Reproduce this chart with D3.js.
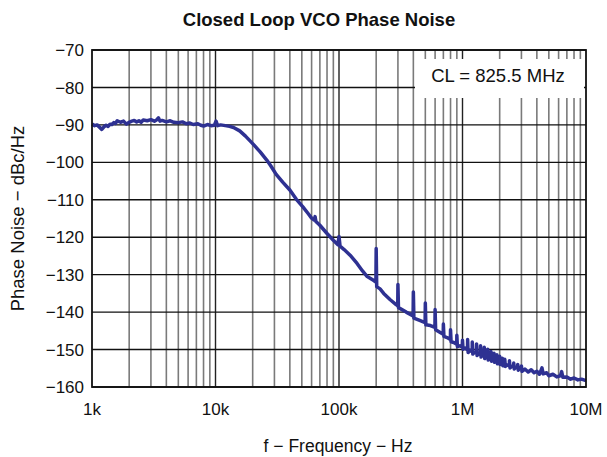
<!DOCTYPE html>
<html>
<head>
<meta charset="utf-8">
<script src="https://cdn.jsdelivr.net/npm/d3@7/dist/d3.min.js"></script>
<style>
  html, body { margin: 0; padding: 0; background: #fff; }
  svg { display: block; font-family: "Liberation Sans", Arial, sans-serif; }
</style>
</head>
<body>
<svg id="chart" width="607" height="457"></svg>
<script>
// ---- data ----
const chartTitle = "Closed Loop VCO Phase Noise";
const xAxisTitle = "f \u2212 Frequency \u2212 Hz";
const yAxisTitle = "Phase Noise \u2212 dBc/Hz";
const legendText = "CL = 825.5 MHz";

const xTickValues = [1e3, 1e4, 1e5, 1e6, 1e7];
const xTickLabels = ["1k", "10k", "100k", "1M", "10M"];
const yTickValues = [-70, -80, -90, -100, -110, -120, -130, -140, -150, -160];

// frequency (Hz) and phase noise (dBc/Hz); spurs appear as base/peak/base
const freqHz = [
  1000, 1050, 1100, 1150, 1200, 1250, 1300, 1350, 1400, 1450,
  1500, 1550, 1600, 1700, 1800, 1900, 2000, 2100, 2200, 2300,
  2400, 2500, 2600, 2800, 3000, 3200, 3350, 3450, 3550, 3700,
  4000, 4300, 4600, 5000, 5400, 5800, 6200, 6600, 7200, 7600,
  8000, 8600, 9200, 9800, 10100, 10400, 11000, 12000, 13000, 14000,
  15700, 17500, 20000, 23000, 26000, 28000, 31000, 35000, 40000, 45000,
  51000, 56000, 60000, 63000, 64000, 65000, 70000, 80000, 90000, 98000,
  100000, 102000, 110000, 123000, 140000, 155000, 168000, 180000, 190000, 199000,
  200000, 202000, 215000, 230000, 260000, 290000, 299000, 300000, 303000, 350000,
  398000, 400000, 404000, 450000, 498000, 500000, 505000, 550000, 598000, 600000,
  606000, 650000, 698000, 700000, 707000, 750000, 798000, 800000, 808000, 850000,
  898000, 900000, 909000, 950000, 995000, 1000000, 1010000, 1050000, 1098000, 1100000,
  1110000, 1150000, 1198000, 1200000, 1212000, 1250000, 1298000, 1300000, 1313000, 1350000,
  1398000, 1400000, 1414000, 1450000, 1498000, 1500000, 1515000, 1550000, 1598000, 1600000,
  1616000, 1650000, 1698000, 1700000, 1717000, 1750000, 1798000, 1800000, 1818000, 1850000,
  1898000, 1900000, 1919000, 1950000, 1998000, 2000000, 2020000, 2050000, 2098000, 2100000,
  2121000, 2150000, 2198000, 2200000, 2222000, 2300000, 2398000, 2400000, 2424000, 2500000,
  2598000, 2600000, 2626000, 2700000, 2798000, 2800000, 2828000, 2900000, 2998000, 3000000,
  3030000, 3200000, 3400000, 3600000, 3800000, 4000000, 4200000, 4400000, 4500000, 4800000,
  5000000, 5400000, 5800000, 6200000, 6350000, 6500000, 7000000, 7500000, 8000000, 8600000,
  9200000, 10000000
];
const noiseDbc = [
  -89.8, -90.2, -90.0, -90.6, -91.2, -90.5, -90.1, -90.4, -89.8, -89.9,
  -89.4, -89.6, -88.9, -89.3, -89.0, -89.8, -89.3, -89.0, -88.8, -89.2,
  -88.9, -89.3, -88.7, -88.9, -88.6, -89.0, -88.6, -88.1, -89.0, -88.8,
  -89.2, -88.9, -89.3, -89.4, -89.2, -89.7, -89.5, -89.9, -89.7, -90.1,
  -90.3, -89.9, -90.2, -90.1, -89.0, -90.2, -90.0, -90.2, -90.4, -90.7,
  -91.6, -93.0, -95.0, -97.2, -99.4, -100.9, -103.2, -105.3, -107.4, -109.8,
  -111.9, -113.6, -114.9, -115.4, -114.5, -115.8, -116.8, -119.0, -120.8, -122.0,
  -119.8, -122.4, -123.3, -124.8, -127.0, -129.0, -130.4, -131.0, -131.5, -132.0,
  -123.0, -133.2, -133.8, -135.0, -136.7, -138.0, -138.3, -132.6, -138.8, -140.0,
  -141.0, -134.6, -141.6, -142.2, -142.8, -137.6, -143.4, -143.6, -144.1, -139.3,
  -144.7, -145.3, -145.9, -143.2, -146.5, -146.8, -147.3, -144.7, -147.9, -148.1,
  -148.6, -146.2, -149.2, -149.0, -149.3, -147.5, -149.9, -149.6, -150.1, -147.3,
  -150.8, -150.2, -150.6, -148.0, -151.2, -150.7, -151.0, -148.5, -151.6, -151.0,
  -151.4, -149.0, -152.0, -151.4, -151.8, -149.4, -152.4, -151.8, -152.1, -149.9,
  -152.8, -152.2, -152.5, -150.5, -153.1, -152.5, -152.8, -151.0, -153.4, -152.8,
  -153.1, -151.4, -153.8, -153.2, -153.4, -151.8, -154.0, -153.4, -153.7, -152.3,
  -154.3, -153.7, -154.0, -152.6, -154.5, -154.1, -154.4, -153.0, -154.9, -154.5,
  -154.7, -153.6, -155.2, -154.7, -155.0, -154.0, -155.5, -155.1, -155.3, -154.4,
  -155.8, -155.2, -156.0, -155.4, -156.2, -155.8, -156.6, -154.9, -156.5, -156.2,
  -157.0, -156.6, -157.3, -157.0, -155.9, -157.4, -157.3, -157.9, -157.6, -158.1,
  -157.9, -158.3
];

// ---- layout ----
const svg = d3.select("#chart");
const margin = { left: 92, right: 586, top: 50, bottom: 387 };
const x = d3.scaleLog().domain([1e3, 1e7]).range([margin.left, margin.right]);
const y = d3.scaleLinear().domain([-160, -70]).range([margin.bottom, margin.top]);

// vertical grid
const minorX = [];
const majorX = [];
for (let d = 1e3; d < 1e7; d *= 10) {
  if (d > 1e3) majorX.push(d);
  for (let m = 2; m <= 9; m++) minorX.push(d * m);
}
svg.append("g").selectAll("line").data(minorX).join("line")
  .attr("x1", d => x(d)).attr("x2", d => x(d))
  .attr("y1", margin.top).attr("y2", margin.bottom)
  .attr("stroke", "#7a7a7a").attr("stroke-width", 1.6);
svg.append("g").selectAll("line").data(majorX).join("line")
  .attr("x1", d => x(d)).attr("x2", d => x(d))
  .attr("y1", margin.top).attr("y2", margin.bottom)
  .attr("stroke", "#222").attr("stroke-width", 1.4);

// horizontal grid
svg.append("g").selectAll("line").data(yTickValues).join("line")
  .attr("x1", margin.left).attr("x2", margin.right)
  .attr("y1", d => y(d)).attr("y2", d => y(d))
  .attr("stroke", "#111").attr("stroke-width", 1.4);

// legend box (masks the grid)
svg.append("rect")
  .attr("x", 415).attr("y", 59).attr("width", 169).attr("height", 39)
  .attr("fill", "#fff");
svg.append("text")
  .attr("x", 498).attr("y", 81.5).attr("text-anchor", "middle")
  .attr("font-size", 18.5).attr("fill", "#111").text(legendText);

// curve
const pts = freqHz.map((f, i) => [f, noiseDbc[i]]);
svg.append("path")
  .datum(pts)
  .attr("fill", "none")
  .attr("stroke", "#2e3192")
  .attr("stroke-width", 3.5)
  .attr("stroke-linejoin", "round")
  .attr("d", d3.line().x(d => x(d[0])).y(d => y(d[1])));

// frame
svg.append("rect")
  .attr("x", margin.left).attr("y", margin.top)
  .attr("width", margin.right - margin.left).attr("height", margin.bottom - margin.top)
  .attr("fill", "none").attr("stroke", "#111").attr("stroke-width", 1.8);

// y tick labels
svg.append("g").selectAll("text").data(yTickValues).join("text")
  .attr("x", margin.left - 8).attr("y", d => y(d))
  .attr("dy", "0.36em").attr("text-anchor", "end")
  .attr("font-size", 17).attr("fill", "#111")
  .text(d => d < 0 ? "\u2212" + Math.abs(d) : String(d));

// x tick labels
svg.append("g").selectAll("text").data(xTickValues).join("text")
  .attr("x", d => x(d)).attr("y", margin.bottom + 28)
  .attr("text-anchor", "middle")
  .attr("font-size", 17).attr("fill", "#111")
  .text((d, i) => xTickLabels[i]);

// titles
svg.append("text")
  .attr("x", 319).attr("y", 26).attr("text-anchor", "middle")
  .attr("font-size", 18.5).attr("font-weight", "bold").attr("fill", "#111")
  .text(chartTitle);
svg.append("text")
  .attr("x", 338).attr("y", 452).attr("text-anchor", "middle")
  .attr("font-size", 17.5).attr("fill", "#111")
  .text(xAxisTitle);
svg.append("text")
  .attr("transform", `translate(24,${(margin.top + margin.bottom) / 2}) rotate(-90)`)
  .attr("text-anchor", "middle")
  .attr("font-size", 18.5).attr("fill", "#111")
  .text(yAxisTitle);
</script>
</body>
</html>
